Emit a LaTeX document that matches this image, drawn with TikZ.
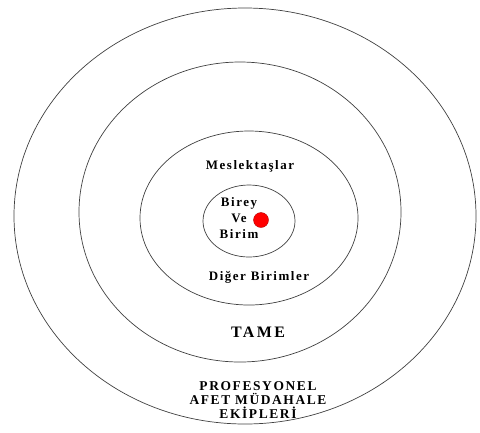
\documentclass[tikz,border=0pt]{standalone}
\usepackage{fontspec}
\setmainfont{Liberation Serif}
\usetikzlibrary{calc, positioning}

\tikzset{
  ring/.style={draw=black!75, line width=0.7bp},
  lbl/.style={font=\bfseries\fontsize{13}{16}\selectfont\addfontfeature{LetterSpace=12}, inner sep=0pt, align=center},
  biglbl/.style={font=\bfseries\fontsize{13.5}{14}\selectfont\addfontfeature{LetterSpace=12}, inner sep=0pt, align=center},
  reddot/.style={circle, fill=red, draw=red!70!black, inner sep=0pt, minimum size=15bp},
}

\begin{document}
\begin{tikzpicture}[x=1bp, y=-1bp]
\useasboundingbox (0,0) rectangle (480,432);

% rings, outermost first
\draw[ring] (245,216) ellipse [x radius=231bp, y radius=208bp];
\draw[ring] (240,212) ellipse [x radius=161bp, y radius=150bp];
\draw[ring] (249,218) ellipse [x radius=109bp, y radius=87bp];
\draw[ring] (249,221) ellipse [x radius=46bp, y radius=36bp];

% centre
\node[lbl] (birey) at (239,218) {Birey\\Ve\\Birim};
\node[reddot] (dot) at (261,220) {};

% labels of the rings
\node[lbl] (meslek) at (250,166) {Meslektaşlar};
\node[lbl] (diger) at (259,277) {Diğer Birimler};
\node[biglbl, font=\bfseries\fontsize{16}{16}\selectfont\addfontfeature{LetterSpace=15}] (tame) at (258,332) {TAME};
\node[biglbl] (afet) at (258,400) {PROFESYONEL\\AFET MÜDAHALE\\EKİPLERİ};
\end{tikzpicture}
\end{document}
